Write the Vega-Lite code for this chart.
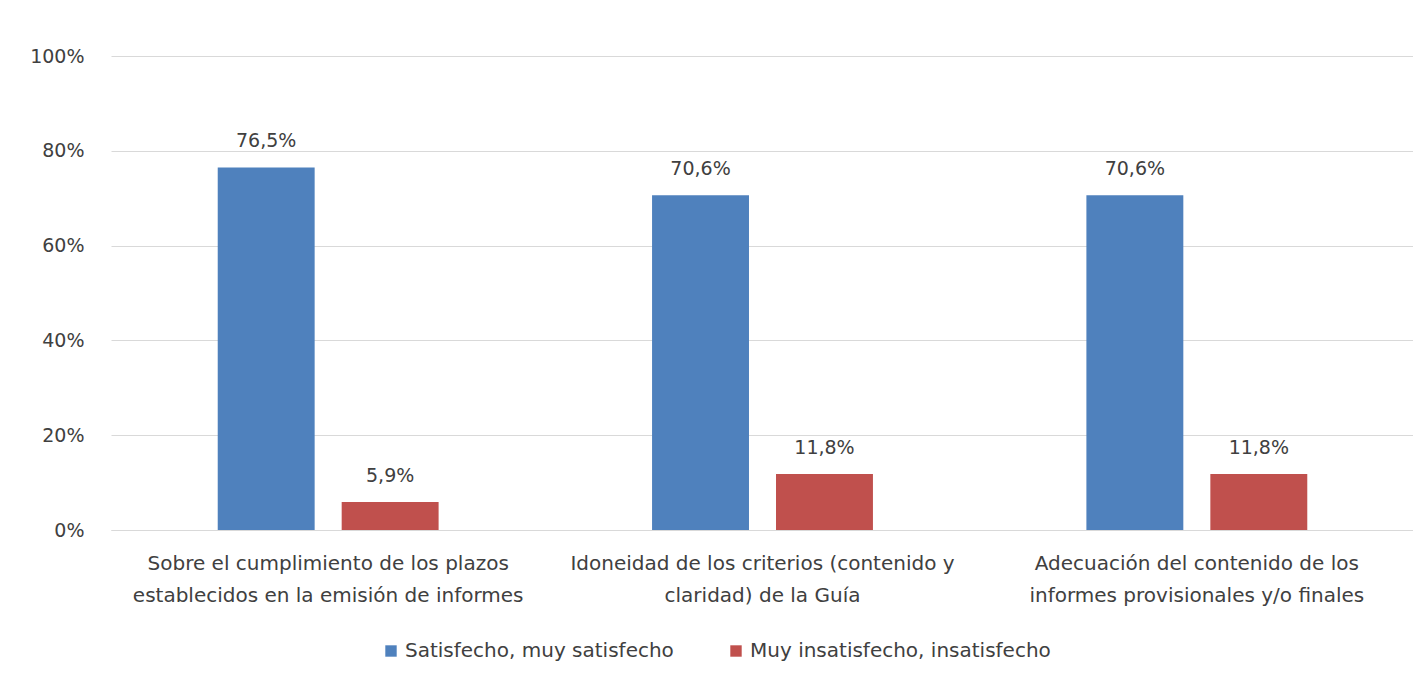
{
  "$schema": "https://vega.github.io/schema/vega-lite/v6.json",
  "width": 1303,
  "height": 474,
  "autosize": "none",
  "padding": {"left": 111, "top": 56, "right": 0, "bottom": 156},
  "background": "white",
  "config": {
    "locale": {"number": {"decimal": ",", "thousands": ".", "grouping": [3], "currency": ["", " €"]}},
    "view": {"stroke": null},
    "font": "DejaVu Sans"
  },
  "data": {
    "values": [
      {"pregunta": "Sobre el cumplimiento de los plazos establecidos en la emisión de informes", "grupo": "Satisfecho, muy satisfecho", "valor": 0.765},
      {"pregunta": "Sobre el cumplimiento de los plazos establecidos en la emisión de informes", "grupo": "Muy insatisfecho, insatisfecho", "valor": 0.059},
      {"pregunta": "Idoneidad de los criterios (contenido y claridad) de la Guía", "grupo": "Satisfecho, muy satisfecho", "valor": 0.706},
      {"pregunta": "Idoneidad de los criterios (contenido y claridad) de la Guía", "grupo": "Muy insatisfecho, insatisfecho", "valor": 0.118},
      {"pregunta": "Adecuación del contenido de los informes provisionales y/o finales", "grupo": "Satisfecho, muy satisfecho", "valor": 0.706},
      {"pregunta": "Adecuación del contenido de los informes provisionales y/o finales", "grupo": "Muy insatisfecho, insatisfecho", "valor": 0.118}
    ]
  },
  "encoding": {
    "x": {
      "field": "pregunta", "type": "nominal", "sort": null,
      "scale": {"paddingInner": 0, "paddingOuter": 0},
      "axis": {
        "title": null, "labelAngle": 0, "ticks": false,
        "domainColor": "#D9D9D9", "domainWidth": 1,
        "labelFontSize": 20, "labelColor": "#404040", "labelPadding": 33,
        "labelLineHeight": 32, "labelLimit": 500, "labelBaseline": "middle", "labelOverlap": false,
        "labelExpr": "indexof(datum.label, 'Sobre') == 0 ? ['Sobre el cumplimiento de los plazos', 'establecidos en la emisión de informes'] : indexof(datum.label, 'Idoneidad') == 0 ? ['Idoneidad de los criterios (contenido y', 'claridad) de la Guía'] : ['Adecuación del contenido de los', 'informes provisionales y/o finales']"
      }
    },
    "xOffset": {"field": "grupo", "sort": null, "scale": {"paddingInner": 0.218, "paddingOuter": 0.861}},
    "y": {
      "field": "valor", "type": "quantitative",
      "scale": {"domain": [0, 1]},
      "axis": {
        "title": null, "format": ".0%", "values": [0, 0.2, 0.4, 0.6, 0.8, 1],
        "domain": false, "ticks": false, "gridColor": "#D9D9D9", "labelOverlap": false,
        "labelFontSize": 19, "labelColor": "#404040", "labelPadding": 27
      }
    },
    "color": {
      "field": "grupo", "type": "nominal", "sort": null,
      "scale": {"domain": ["Satisfecho, muy satisfecho", "Muy insatisfecho, insatisfecho"], "range": ["#4F81BD", "#C0504D"]},
      "legend": {
        "orient": "none", "legendX": 270, "legendY": 585, "direction": "horizontal", "title": null,
        "symbolType": "square", "symbolSize": 130, "symbolStrokeWidth": 0,
        "labelFontSize": 20, "labelColor": "#404040", "labelLimit": 500, "columnPadding": 52
      }
    }
  },
  "layer": [
    {"mark": {"type": "bar"}},
    {
      "mark": {"type": "text", "baseline": "bottom", "dy": -16, "fontSize": 19},
      "encoding": {
        "text": {"field": "valor", "type": "quantitative", "format": ".1%"},
        "color": {"value": "#404040"}
      }
    }
  ]
}
